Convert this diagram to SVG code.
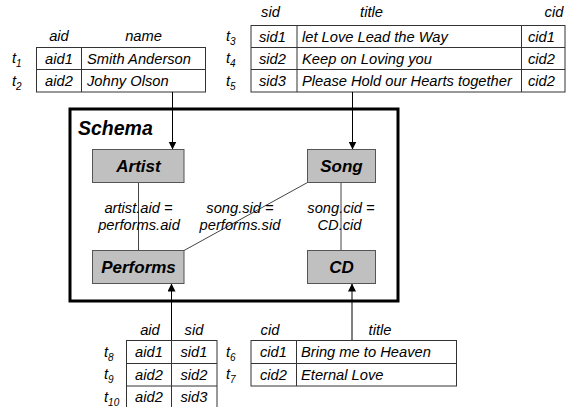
<svg xmlns="http://www.w3.org/2000/svg" width="566" height="407" viewBox="0 0 566 407">
<style>
text{font-family:"Liberation Sans",Arial,sans-serif;font-style:italic;fill:#000}
.t{font-size:14.7px}
.m{text-anchor:middle}
.sub{font-size:10px}
.tl{fill:#fff;stroke:#333;stroke-width:1}
.sep{stroke:#333;stroke-width:1}
.box{fill:#c0c0c0;stroke:#555;stroke-width:1}
.bl{font-size:17px;font-weight:bold;text-anchor:middle}
.ln{stroke:#444;stroke-width:1;fill:none}
.ar{stroke:#000;stroke-width:1;fill:none;marker-end:url(#ah)}
</style>
<defs>
<marker id="ah" markerWidth="8" markerHeight="10" refX="8" refY="4" orient="auto" markerUnits="userSpaceOnUse" viewBox="0 0 8 10">
<path d="M0,0 L8,4 L0,8 Z" fill="#000"/>
</marker>
</defs>
<rect width="566" height="407" fill="#fff"/>

<g id="table-artist">
<text class="t m" x="59" y="41">aid</text>
<text class="t m" x="143.5" y="41">name</text>
<rect class="tl" x="36.5" y="47.5" width="169" height="44.5"/>
<line class="sep" x1="36.5" y1="69.5" x2="205.5" y2="69.5"/>
<line class="sep" x1="81.5" y1="47.5" x2="81.5" y2="92"/>
<text class="t" x="12" y="63">t<tspan class="sub" dy="4">1</tspan></text>
<text class="t" x="12" y="85.5">t<tspan class="sub" dy="4">2</tspan></text>
<text class="t m" x="59" y="63.5">aid1</text>
<text class="t" x="87" y="63.5">Smith Anderson</text>
<text class="t m" x="59" y="86">aid2</text>
<text class="t" x="87" y="86">Johny Olson</text>
</g>

<g id="table-song">
<text class="t m" x="270.5" y="17">sid</text>
<text class="t m" x="371.5" y="17">title</text>
<text class="t m" x="554" y="17">cid</text>
<rect class="tl" x="251" y="25.5" width="314" height="66.5"/>
<line class="sep" x1="251" y1="47.5" x2="565" y2="47.5"/>
<line class="sep" x1="251" y1="69.5" x2="565" y2="69.5"/>
<line class="sep" x1="297" y1="25.5" x2="297" y2="92"/>
<line class="sep" x1="521.5" y1="25.5" x2="521.5" y2="92"/>
<text class="t" x="226" y="41">t<tspan class="sub" dy="4">3</tspan></text>
<text class="t" x="226" y="63">t<tspan class="sub" dy="4">4</tspan></text>
<text class="t" x="226" y="85.5">t<tspan class="sub" dy="4">5</tspan></text>
<text class="t m" x="272.5" y="41.5">sid1</text>
<text class="t" x="302" y="41.5">let Love Lead the Way</text>
<text class="t m" x="541.5" y="41.5">cid1</text>
<text class="t m" x="272.5" y="63.5">sid2</text>
<text class="t" x="302" y="63.5">Keep on Loving you</text>
<text class="t m" x="541.5" y="63.5">cid2</text>
<text class="t m" x="272.5" y="86">sid3</text>
<text class="t" x="302" y="86">Please Hold our Hearts together</text>
<text class="t m" x="541.5" y="86">cid2</text>
</g>

<g id="schema">
<rect x="70" y="109" width="328" height="192" fill="none" stroke="#000" stroke-width="3"/>
<text x="78" y="135" style="font-size:19.5px;font-weight:bold">Schema</text>
</g>

<g id="connectors">
<line class="ar" x1="172.5" y1="92" x2="172.5" y2="149.5"/>
<line class="ar" x1="352.5" y1="92" x2="352.5" y2="149.5"/>
<line class="ar" x1="171.5" y1="407" x2="171.5" y2="283.5"/>
<line class="ar" x1="352" y1="340.5" x2="352" y2="283.5"/>
<line class="ln" x1="138.5" y1="182.5" x2="138.5" y2="250.5"/>
<line class="ln" x1="341" y1="182.5" x2="341" y2="250.5"/>
<line class="ln" x1="307.5" y1="182.5" x2="184" y2="250.5"/>
<text class="t m" x="138.5" y="212.5">artist.aid =</text>
<text class="t m" x="139" y="229.5">performs.aid</text>
<text class="t m" x="240" y="212.5">song.sid =</text>
<text class="t m" x="240" y="229.5">performs.sid</text>
<text class="t m" x="341" y="212.5">song.cid =</text>
<text class="t m" x="339.5" y="229.5">CD.cid</text>
</g>

<g id="node-artist">
<rect class="box" x="92.5" y="149.5" width="91.5" height="33"/>
<text class="bl" x="138.5" y="172">Artist</text>
</g>
<g id="node-song">
<rect class="box" x="307.5" y="149.5" width="68" height="33"/>
<text class="bl" x="341.5" y="172">Song</text>
</g>
<g id="node-performs">
<rect class="box" x="92.5" y="250.5" width="91.5" height="33"/>
<text class="bl" x="138.5" y="273">Performs</text>
</g>
<g id="node-cd">
<rect class="box" x="307.5" y="250.5" width="68" height="33"/>
<text class="bl" x="341.5" y="273">CD</text>
</g>

<g id="table-performs">
<text class="t m" x="150" y="335">aid</text>
<text class="t m" x="194" y="335">sid</text>
<rect class="tl" x="126.5" y="340.5" width="90.5" height="68"/>
<line class="sep" x1="126.5" y1="363.5" x2="217" y2="363.5"/>
<line class="sep" x1="126.5" y1="386" x2="217" y2="386"/>
<line class="sep" x1="171.5" y1="340.5" x2="171.5" y2="408"/>
<text class="t" x="104" y="356.5">t<tspan class="sub" dy="4">8</tspan></text>
<text class="t" x="104" y="379">t<tspan class="sub" dy="4">9</tspan></text>
<text class="t" x="104" y="401.5">t<tspan class="sub" dy="4">10</tspan></text>
<text class="t m" x="149" y="357">aid1</text>
<text class="t m" x="194" y="357">sid1</text>
<text class="t m" x="149" y="379.5">aid2</text>
<text class="t m" x="194" y="379.5">sid2</text>
<text class="t m" x="149" y="402">aid2</text>
<text class="t m" x="194" y="402">sid3</text>
</g>

<g id="table-cd">
<text class="t m" x="270" y="335">cid</text>
<text class="t m" x="380" y="335">title</text>
<rect class="tl" x="251" y="340.5" width="205.5" height="45.5"/>
<line class="sep" x1="251" y1="363.5" x2="456.5" y2="363.5"/>
<line class="sep" x1="296.5" y1="340.5" x2="296.5" y2="386"/>
<text class="t" x="226" y="356.5">t<tspan class="sub" dy="4">6</tspan></text>
<text class="t" x="226" y="379">t<tspan class="sub" dy="4">7</tspan></text>
<text class="t m" x="273.5" y="357">cid1</text>
<text class="t" x="301" y="357">Bring me to Heaven</text>
<text class="t m" x="273.5" y="379.5">cid2</text>
<text class="t" x="301" y="379.5">Eternal Love</text>
</g>
</svg>
